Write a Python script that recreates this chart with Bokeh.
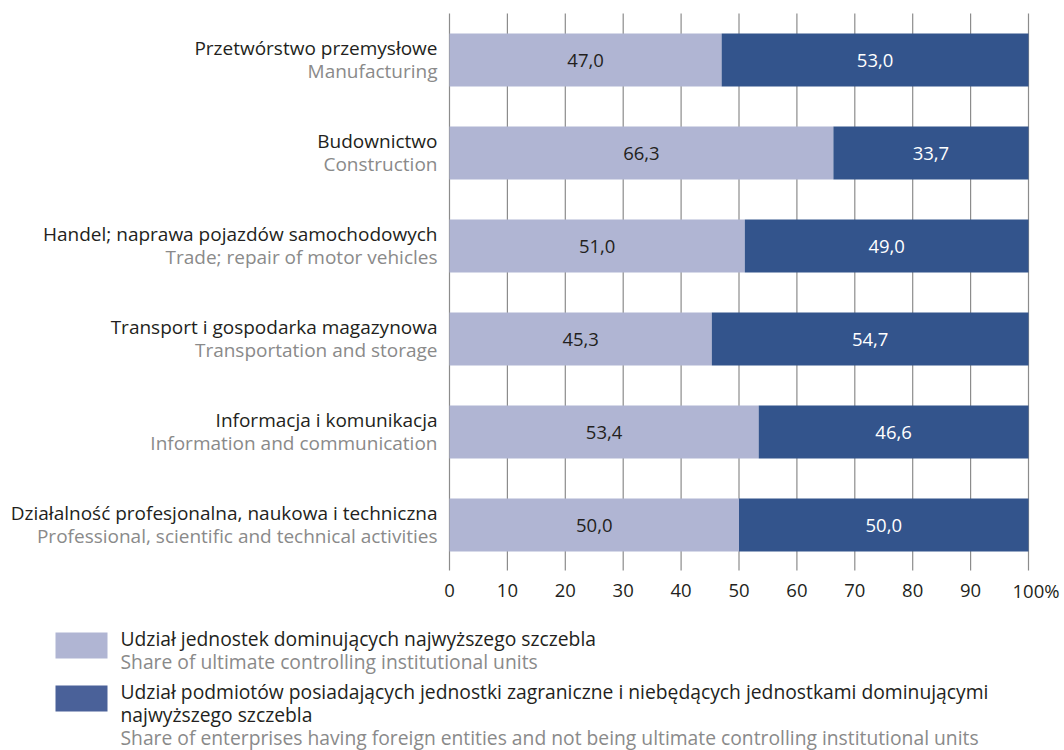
from bokeh.plotting import figure
from bokeh.models import Range1d, ColumnDataSource
from bokeh.core.properties import value
from bokeh.embed import file_html
from bokeh.resources import INLINE

# ---- data ----
cat_pl = ["Przetwórstwo przemysłowe", "Budownictwo", "Handel; naprawa pojazdów samochodowych",
          "Transport i gospodarka magazynowa", "Informacja i komunikacja",
          "Działalność profesjonalna, naukowa i techniczna"]
cat_en = ["Manufacturing", "Construction", "Trade; repair of motor vehicles",
          "Transportation and storage", "Information and communication",
          "Professional, scientific and technical activities"]
share_ultimate = [47.0, 66.3, 51.0, 45.3, 53.4, 50.0]
share_foreign = [53.0, 33.7, 49.0, 54.7, 46.6, 50.0]
x_ticks = [0, 10, 20, 30, 40, 50, 60, 70, 80, 90, 100]
x_tick_labels = ["0", "10", "20", "30", "40", "50", "60", "70", "80", "90", "100%"]
legend_pl = ["Udział jednostek dominujących najwyższego szczebla",
             "Udział podmiotów posiadających jednostki zagraniczne i niebędących jednostkami dominującymi",
             "najwyższego szczebla"]
legend_en = ["Share of ultimate controlling institutional units",
             "Share of enterprises having foreign entities and not being ultimate controlling institutional units"]

LIGHT = "#b0b5d3"
DARK = "#33548c"
DARK_LEG = "#4a6199"
TXT = "#231f20"
GREY = "#8a8a8a"
GRID = "#8c8c8c"
FONT = value("Open Sans")
FS = value("19px")
FS_LEG = value("19.3px")
FS_NUM = value("18.5px")

W, H = 1064, 750
PX_PER_UNIT = 5.79      # horizontal pixels per percent
ROW = 93.0              # vertical pixels per category
X0 = 449.0              # pixel of 0 %
Y0 = 59.5               # pixel of the first category centre

def dx(px):  # canvas px -> data x
    return (px - X0) / PX_PER_UNIT

def dy(py):  # canvas py -> data y (axis reversed: grows downwards)
    return (py - Y0) / ROW

p = figure(width=W, height=H, output_backend="svg", toolbar_location=None,
           x_range=Range1d(dx(0), dx(W)), y_range=Range1d(dy(H), dy(0)),
           min_border=0, x_axis_type=None, y_axis_type=None)
p.outline_line_color = None
p.xgrid.visible = False
p.ygrid.visible = False
p.background_fill_color = "white"
p.border_fill_color = "white"

# vertical grid lines at the ticks
p.segment(x0=x_ticks, x1=x_ticks, y0=[dy(13)] * len(x_ticks), y1=[dy(570)] * len(x_ticks),
          line_color=GRID, line_width=1.2)

idx = list(range(len(cat_pl)))
src = ColumnDataSource(dict(
    y=idx,
    ult_end=share_ultimate,
    fo_end=[a + b for a, b in zip(share_ultimate, share_foreign)],
    ult_mid=[a / 2 for a in share_ultimate],
    fo_mid=[a + b / 2 for a, b in zip(share_ultimate, share_foreign)],
    ult_txt=[f"{v:.1f}".replace(".", ",") for v in share_ultimate],
    fo_txt=[f"{v:.1f}".replace(".", ",") for v in share_foreign],
    pl=cat_pl, en=cat_en,
    y_pl=[i - 12.0 / ROW for i in idx],
    y_en=[i + 10.5 / ROW for i in idx],
))

BAR_H = 53 / ROW
p.hbar(y="y", left=0, right="ult_end", height=BAR_H, source=src,
       fill_color=LIGHT, line_color=None)
p.hbar(y="y", left="ult_end", right="fo_end", height=BAR_H, source=src,
       fill_color=DARK, line_color=None)

p.text(x="ult_mid", y="y", text="ult_txt", source=src, text_align="center",
       text_baseline="middle", text_font=FONT, text_font_size=FS_NUM, text_color=TXT)
p.text(x="fo_mid", y="y", text="fo_txt", source=src, text_align="center",
       text_baseline="middle", text_font=FONT, text_font_size=FS_NUM, text_color="white")

p.text(x=0, y="y_pl", text="pl", source=src, x_offset=-12, text_align="right",
       text_baseline="middle", text_font=FONT, text_font_size=FS, text_color=TXT)
p.text(x=0, y="y_en", text="en", source=src, x_offset=-12, text_align="right",
       text_baseline="middle", text_font=FONT, text_font_size=FS, text_color=GREY)

# x tick labels
p.text(x=x_ticks[:-1], y=[dy(590)] * (len(x_ticks) - 1), text=x_tick_labels[:-1],
       text_align="center", text_baseline="middle", text_font=FONT,
       text_font_size=FS_NUM, text_color=TXT)
p.text(x=[x_ticks[-1]], y=[dy(590)], text=[x_tick_labels[-1]], x_offset=-16,
       text_align="left", text_baseline="middle", text_font=FONT,
       text_font_size=FS_NUM, text_color=TXT)

# ---- legend ----
p.quad(left=[dx(55), dx(55)], right=[dx(107), dx(107)],
       top=[dy(632), dy(685)], bottom=[dy(658), dy(711)],
       fill_color=[LIGHT, DARK_LEG], line_color=None)

leg_txt = [legend_pl[0], legend_en[0], legend_pl[1], legend_pl[2], legend_en[1]]
leg_y = [dy(638), dy(661), dy(691), dy(714), dy(737)]
leg_col = [TXT, GREY, TXT, TXT, GREY]
p.text(x=[dx(120)] * len(leg_txt), y=leg_y, text=leg_txt, text_color=leg_col,
       text_align="left", text_baseline="middle", text_font=FONT, text_font_size=FS_LEG)

open("out.html", "w").write(file_html(p, INLINE))
